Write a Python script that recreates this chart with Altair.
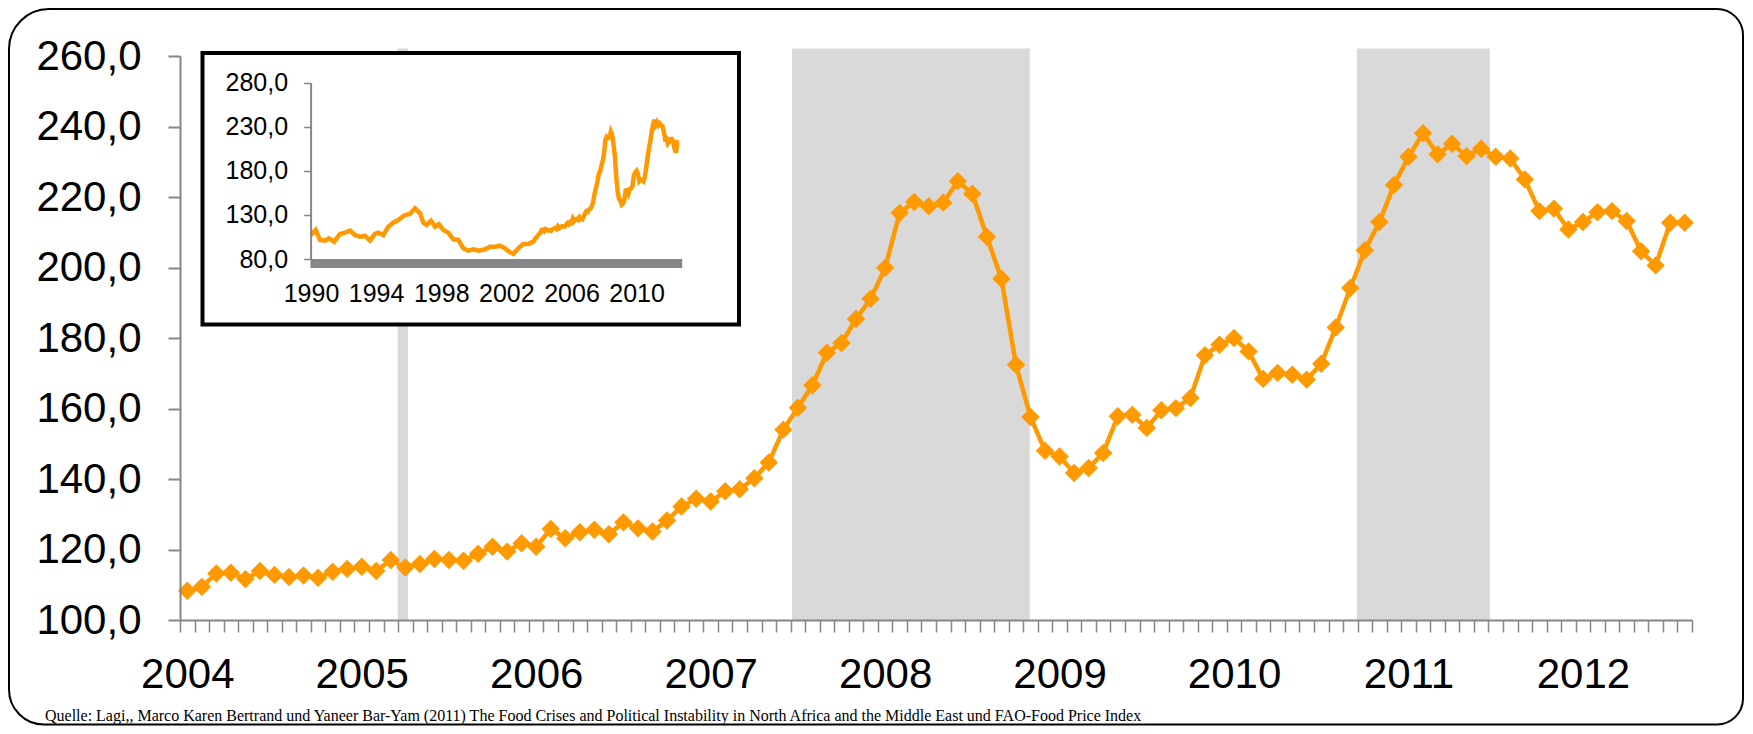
import altair as alt
import pandas as pd

# ---------------- data ----------------
start_year = 2004
year_labels = ["2004", "2005", "2006", "2007", "2008", "2009", "2010", "2011", "2012"]

# FAO Food Price Index, monthly, Jan 2004 .. Aug 2012
food_index = [
    108.3, 109.4, 113.2, 113.4, 111.6, 113.9, 112.8, 112.2, 112.6, 112.0, 113.7, 114.5,
    115.1, 113.9, 117.0, 114.9, 115.9, 117.3, 117.0, 116.8, 118.8, 120.8, 119.4, 121.8,
    120.8, 125.8, 123.2, 124.9, 125.6, 124.3, 127.7, 126.0, 125.1, 128.2, 132.2, 134.4,
    133.6, 136.5, 137.1, 140.2, 144.7, 154.0, 160.2, 166.6, 175.8, 178.6, 185.4, 191.1,
    199.9, 215.5, 218.6, 217.4, 218.4, 224.5, 220.9, 208.7, 196.8, 172.4, 157.6, 148.0,
    146.4, 141.7, 143.1, 147.4, 157.8, 158.2, 154.5, 159.5, 160.1, 163.0, 175.1, 178.1,
    180.0, 176.2, 168.4, 170.1, 169.6, 168.2, 172.7, 183.0, 194.2, 204.9, 212.9, 223.4,
    231.4, 238.1, 232.1, 235.1, 231.6, 233.7, 231.4, 230.9, 225.0, 216.0, 216.7, 210.8,
    212.9, 215.7, 216.0, 213.2, 204.6, 200.6, 212.7, 212.7,
]

# shaded periods (month index units from Jan 2004)
band_starts = [14.97, 42.1, 80.95]
band_ends = [15.68, 58.45, 90.1]
band_top = 262.1

y_ticks = [100, 120, 140, 160, 180, 200, 220, 240, 260]

# inset: long series 1990-2003, then the monthly series above
inset_years_early = [
    1990.0, 1990.29, 1990.55, 1990.86, 1991.1, 1991.43, 1991.78, 1992.09, 1992.4, 1992.7,
    1993.0, 1993.32, 1993.62, 1993.93, 1994.13, 1994.44, 1994.75, 1995.05, 1995.36, 1995.57,
    1995.77, 1996.08, 1996.39, 1996.7, 1996.9, 1997.1, 1997.37, 1997.62, 1997.86, 1998.13,
    1998.43, 1998.74, 1999.05, 1999.35, 1999.66, 1999.97, 2000.28, 2000.69, 2001.0, 2001.3,
    2001.6, 2001.92, 2002.16, 2002.43, 2002.73, 2003.04, 2003.35, 2003.65, 2003.8,
]
inset_values_early = [
    107.2, 112.9, 101.6, 100.8, 103.5, 99.7, 108.4, 109.9, 112.2, 107.2,
    105.3, 106.1, 100.8, 108.4, 109.9, 107.2, 116.7, 121.2, 124.2, 127.3,
    129.9, 131.0, 137.5, 131.8, 121.2, 118.6, 123.5, 116.7, 119.4, 112.9,
    109.9, 102.3, 101.6, 92.1, 89.4, 91.0, 89.4, 91.0, 94.0, 94.0,
    95.1, 92.1, 88.3, 85.7, 92.1, 97.0, 97.0, 99.7, 103.5,
]
inset_x_ticks = [1990, 1994, 1998, 2002, 2006, 2010]
inset_y_ticks = [80, 130, 180, 230, 280]

footnote = ("Quelle: Lagi,, Marco Karen Bertrand und  Yaneer Bar-Yam (2011) The Food Crises and "
            "Political Instability in North Africa and the Middle East und FAO-Food Price Index")

# ---------------- tables ----------------
n = len(food_index)
main_df = pd.DataFrame({"m": [i + 0.5 for i in range(n)], "v": food_index})
band_df = pd.DataFrame({"x0": band_starts, "x1": band_ends,
                        "y0": [y_ticks[0]] * len(band_starts), "y1": [band_top] * len(band_starts)})
inset_df = pd.DataFrame({
    "yr": inset_years_early + [start_year + i / 12 for i in range(n)],
    "v": inset_values_early + food_index,
})
one = pd.DataFrame({"a": [0]})
note_df = pd.DataFrame({"t": [footnote]})

W, H = 1512, 564
FONT = "Liberation Sans"
ORANGE = "#FF9900"
AXGRAY = "#868686"

xs = alt.Scale(domain=[0, n], nice=False, zero=False)
ys = alt.Scale(domain=[y_ticks[0], y_ticks[-1]], nice=False, zero=False)

lab_arr = "[" + ",".join("'%s'" % s for s in year_labels) + "]"
x_axis = alt.Axis(
    values=list(range(n + 1)), title=None, grid=False,
    labelExpr="datum.value %% 12 == 0 && datum.value < %d ? %s[datum.value / 12] : ''" % (n, lab_arr),
    labelOffset=W / n / 2, labelFlush=False, labelOverlap=False, labelBound=False,
    labelFont=FONT, labelFontSize=42, labelColor="black", labelPadding=22,
    tickSize=12, tickColor=AXGRAY, tickWidth=1.5,
    domainColor=AXGRAY, domainWidth=2, zindex=1,
)
y_axis = alt.Axis(
    values=y_ticks, title=None, grid=False,
    labelExpr="replace(format(datum.value, '.1f'), '.', ',')",
    labelFont=FONT, labelFontSize=42, labelColor="black", labelPadding=27,
    tickSize=12, tickColor=AXGRAY, tickWidth=2,
    domainColor=AXGRAY, domainWidth=2, zindex=1,
)

bands = alt.Chart(band_df).mark_rect(color="#D9D9D9").encode(
    x=alt.X("x0:Q", scale=xs, axis=x_axis), x2="x1:Q",
    y=alt.Y("y0:Q", scale=ys, axis=y_axis), y2="y1:Q",
)
line = alt.Chart(main_df).mark_line(color=ORANGE, strokeWidth=4.5).encode(
    x=alt.X("m:Q", scale=xs, axis=x_axis),
    y=alt.Y("v:Q", scale=ys, axis=y_axis),
)
pts = alt.Chart(main_df).mark_point(shape="diamond", filled=True, size=340,
                                    color=ORANGE, opacity=1).encode(
    x=alt.X("m:Q", scale=xs, axis=x_axis),
    y=alt.Y("v:Q", scale=ys, axis=y_axis),
)
border = alt.Chart(one).mark_rect(
    fill="transparent", stroke="black", strokeWidth=2,
    cornerRadiusTopLeft=40, cornerRadiusBottomLeft=35,
    cornerRadiusTopRight=26, cornerRadiusBottomRight=26,
).encode(x=alt.value(-171), x2=alt.value(1563), y=alt.value(-47), y2=alt.value(668.5))
note = alt.Chart(note_df).mark_text(
    font="Liberation Serif", fontSize=16, align="left", baseline="alphabetic", color="black"
).encode(text="t:N", x=alt.value(-135), y=alt.value(665))

main = alt.layer(bands, line, pts, border, note)

# ---------------- inset ----------------
ixs = alt.Scale(domain=[1990, 2012.8], range=[131, 502.2], nice=False, zero=False)
iys = alt.Scale(domain=[inset_y_ticks[0], inset_y_ticks[-1]], range=[203, 26.7], nice=False, zero=False)
ix_axis = alt.Axis(
    values=inset_x_ticks, format="d", title=None, grid=False, orient="bottom", offset=-361,
    domain=False, ticks=False, tickSize=0, labelPadding=22, labelFlush=False,
    labelFont=FONT, labelFontSize=25, labelColor="black", zindex=2,
)
iy_axis = alt.Axis(
    values=inset_y_ticks, title=None, grid=False, orient="left", offset=-130.6,
    labelExpr="replace(format(datum.value, '.1f'), '.', ',')",
    labelFont=FONT, labelFontSize=25, labelColor="black", labelPadding=16,
    tickSize=7, tickColor=AXGRAY, tickWidth=1.5, domainColor=AXGRAY, domainWidth=2, zindex=2,
)
box = alt.Chart(one).mark_rect(fill="white", stroke="black", strokeWidth=4).encode(
    x=alt.value(22.5), x2=alt.value(559), y=alt.value(-3), y2=alt.value(268.5)
)
iband_df = pd.DataFrame({"x0": [1989.97], "x1": [2012.8], "y0": [inset_y_ticks[0]], "y1": [69.8]})
iband = alt.Chart(iband_df).mark_rect(color="#878787").encode(
    x=alt.X("x0:Q", scale=ixs, axis=ix_axis), x2="x1:Q",
    y=alt.Y("y0:Q", scale=iys, axis=iy_axis), y2="y1:Q",
)
iline = alt.Chart(inset_df).mark_line(color=ORANGE, strokeWidth=4.5).encode(
    x=alt.X("yr:Q", scale=ixs, axis=ix_axis),
    y=alt.Y("v:Q", scale=iys, axis=iy_axis),
)
inset = alt.layer(box, iband, iline)

chart = alt.layer(main, inset).resolve_scale(x="independent", y="independent").properties(
    width=W, height=H, autosize=alt.AutoSizeParams(type="none"),
    padding={"left": 172, "top": 48, "right": 52, "bottom": 106},
    background="white",
).configure_view(stroke=None)

chart.save("out.html", embed_options={"renderer": "svg", "actions": False})
